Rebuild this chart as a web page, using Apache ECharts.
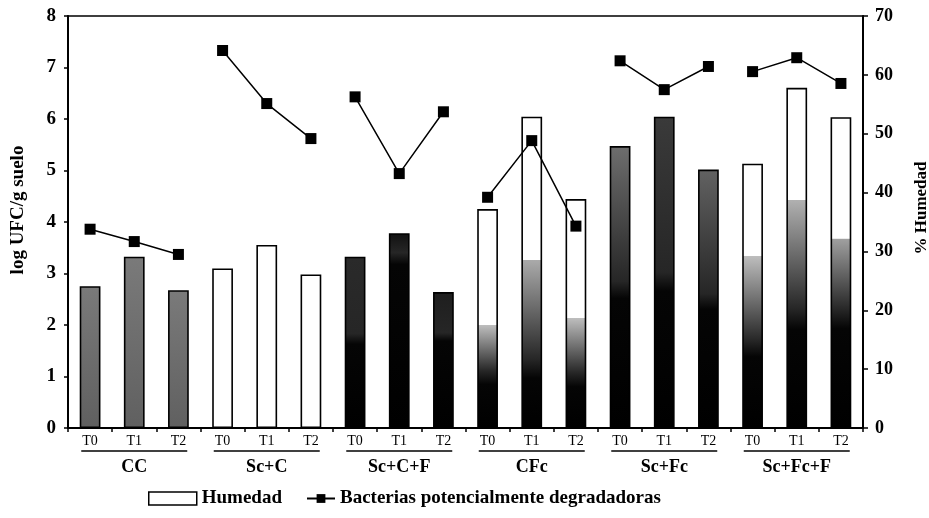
<!DOCTYPE html>
<html>
<head>
<meta charset="utf-8">
<script src="https://cdn.jsdelivr.net/npm/echarts@6/dist/echarts.min.js"></script>
<style>html,body{margin:0;padding:0;background:#fff;}#c{width:929px;height:518px;}</style>
</head>
<body>
<div id="c"></div>
<script>
// ---- data ----
const tickLabels = ['T0','T1','T2','T0','T1','T2','T0','T1','T2','T0','T1','T2','T0','T1','T2','T0','T1','T2'];
const groups = ['CC','Sc+C','Sc+C+F','CFc','Sc+Fc','Sc+Fc+F'];
const humedad = [24.1,29.1,23.4, 27.1,31.1,26.1, 29.1,33.1,23.1, 37.2,52.9,38.9, 47.9,52.9,43.9, 44.9,57.8,52.8];
const bacterias = [3.86,3.62,3.37, 7.33,6.30,5.62, 6.43,4.94,6.14, 4.48,5.58,3.92, 7.13,6.57,7.02, 6.92,7.19,6.69];
const leftTicks = {min:0, max:8, interval:1};
const rightTicks = {min:0, max:70, interval:10};

// ---- styles (bar shading, fraction from top: white end, stipple end, stipple top tone) ----
const barShades = [
  ['cc'],['cc'],['cc'],
  ['white'],['white'],['white'],
  [0,0.45,'#2a2a2a'],[0,0.1,'#111'],[0,0.3,'#1e1e1e'],
  [0.53,0.74,'#bdbdbd'],[0.46,0.78,'#aaaaaa'],[0.52,0.76,'#bdbdbd'],
  [0,0.48,'#6e6e6e'],[0,0.5,'#3a3a3a'],[0,0.48,'#626262'],
  [0.35,0.67,'#bdbdbd'],[0.33,0.65,'#b0b0b0'],[0.39,0.62,'#a0a0a0']
];
function fillFor(sh){
  if (sh[0]==='cc') return new echarts.graphic.LinearGradient(0,0,0,1,[{offset:0,color:'#7a7a7a'},{offset:1,color:'#606060'}]);
  if (sh[0]==='white') return '#ffffff';
  const w=sh[0], s=sh[1], g=sh[2];
  const stops=[];
  if (w>0){ stops.push({offset:0,color:'#fff'}); stops.push({offset:w,color:'#fff'}); }
  stops.push({offset:w+0.001,color:g});
  stops.push({offset:s,color:'#262626'});
  stops.push({offset:Math.min(1,s+0.06),color:'#050505'});
  stops.push({offset:1,color:'#000'});
  return new echarts.graphic.LinearGradient(0,0,0,1,stops);
}

const serif = 'Liberation Serif';
const lineName = 'Bacterias potencialmente degradadoras';
// one line per treatment group (lines are broken between groups)
const lineSeries = groups.map(function(g, gi){
  return {name:lineName,type:'line',xAxisIndex:0,yAxisIndex:0,
    symbol:'rect',symbolSize:11,z:5,
    lineStyle:{color:'#000',width:1.5},itemStyle:{color:'#000'},
    data:bacterias.map(function(v,i){return Math.floor(i/3)===gi ? v : '-';})};
});

const chart = echarts.init(document.getElementById('c'), null, {renderer:'canvas'});
chart.setOption({
  animation:false,
  backgroundColor:'#fff',
  grid:{left:68,right:66,top:16,bottom:90,containLabel:false,outerBoundsMode:'none',
        show:true,borderColor:'#000',borderWidth:1.5,backgroundColor:'transparent'},
  legend:[
    {data:[{name:'Humedad',icon:'rect',itemStyle:{color:'#fff',borderColor:'#000',borderWidth:1.5}}],
     left:143,top:484,itemWidth:48,itemHeight:13,itemGap:6,
     textStyle:{fontFamily:serif,fontWeight:'bold',fontSize:19,color:'#000'}},
    {data:[{name:lineName}],
     left:301,top:484,itemWidth:28,itemHeight:11,
     textStyle:{fontFamily:serif,fontWeight:'bold',fontSize:19,color:'#000'}}
  ],
  xAxis:[
    {type:'category',data:tickLabels,position:'bottom',
     axisLine:{lineStyle:{color:'#000',width:2}},
     axisTick:{show:true,length:4,lineStyle:{color:'#000',width:1.5}},
     axisLabel:{fontFamily:serif,fontSize:14,color:'#000',margin:6}},
    {type:'category',data:groups,position:'bottom',
     axisLine:{show:false},axisTick:{show:false},
     axisLabel:{margin:22,interval:0,
       formatter:function(v){return '{ul|}\n{g|'+v+'}';},
       rich:{ul:{width:106,height:1.6,backgroundColor:'#000',lineHeight:2},
             g:{fontFamily:serif,fontWeight:'bold',fontSize:18,color:'#000',lineHeight:30}}}}
  ],
  yAxis:[
    {type:'value',min:leftTicks.min,max:leftTicks.max,interval:leftTicks.interval,
     name:'log UFC/g suelo',nameLocation:'middle',nameGap:40,
     nameTextStyle:{fontFamily:serif,fontWeight:'bold',fontSize:19,color:'#000',padding:[0,0,0,24]},
     axisLine:{show:true,lineStyle:{color:'#000',width:2}},
     axisTick:{show:true,length:4,lineStyle:{color:'#000',width:1.5}},
     splitLine:{show:false},
     axisLabel:{fontFamily:serif,fontWeight:'bold',fontSize:19,color:'#000',margin:12}},
    {type:'value',min:rightTicks.min,max:rightTicks.max,interval:rightTicks.interval,position:'right',
     name:'% Humedad',nameLocation:'middle',nameGap:50,nameRotate:90,
     nameTextStyle:{fontFamily:serif,fontWeight:'bold',fontSize:17,color:'#000',padding:[0,0,0,28]},
     axisLine:{show:true,lineStyle:{color:'#000',width:2}},
     axisTick:{show:true,length:5,lineStyle:{color:'#000',width:1.5}},
     splitLine:{show:false},
     axisLabel:{fontFamily:serif,fontWeight:'bold',fontSize:18,color:'#000',margin:12}}
  ],
  series:[
    {name:'Humedad',type:'bar',xAxisIndex:0,yAxisIndex:1,barWidth:'47%',
     itemStyle:{color:'#fff',borderColor:'#000',borderWidth:1.6},
     data:humedad.map(function(v,i){return {value:v,itemStyle:{color:fillFor(barShades[i])}};})}
  ].concat(lineSeries)
});
</script>
</body>
</html>
